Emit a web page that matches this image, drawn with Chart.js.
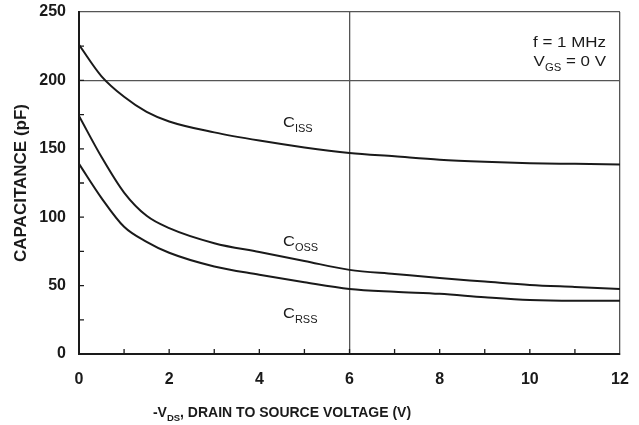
<!DOCTYPE html>
<html>
<head>
<meta charset="utf-8">
<script src="https://cdn.jsdelivr.net/npm/chart.js@4.4.0/dist/chart.umd.min.js"></script>
<style>
  html, body { margin: 0; padding: 0; background: #fff; }
  #wrap { width: 639px; height: 425px; position: relative; }
</style>
</head>
<body>
<div id="wrap"><canvas id="myChart" width="639" height="425"></canvas></div>
<script>
// -VDS sample points (V)
const vds = [0, 0.5, 1, 1.5, 2, 3, 4, 5, 6, 7, 8, 9, 10, 11, 12];
// capacitances (pF)
const ciss = [226, 203, 188, 177, 170, 162, 156, 151, 147, 144.5, 142, 140.5, 139.5, 139, 138.5];
const coss = [174, 144, 118, 101, 92, 81, 74.5, 68, 61.5, 58.5, 55.5, 53, 50.5, 49, 47.5];
const crss = [139, 114, 93, 82, 74, 64, 58, 52.5, 47.6, 45.5, 44, 41.5, 39.5, 39, 39];

const xTicks = [0, 2, 4, 6, 8, 10, 12];
const yTicks = [0, 50, 100, 150, 200, 250];

const FONT = '"Liberation Sans", Arial, sans-serif';

function toPoints(ys) {
  return vds.map((x, i) => ({ x: x, y: ys[i] }));
}

function lineSet(label, ys) {
  return {
    label: label,
    data: toPoints(ys),
    borderColor: '#1a1a1a',
    borderWidth: 2,
    pointRadius: 0,
    fill: false,
    cubicInterpolationMode: 'monotone'
  };
}

// width of a run of text pieces (some of them subscript)
function partsWidth(ctx, parts, size, subSize, weight) {
  let w = 0;
  parts.forEach(p => {
    ctx.font = weight + ' ' + (p.sub ? subSize : size) + 'px ' + FONT;
    w += ctx.measureText(p.t).width;
  });
  return w;
}

// draw text pieces from left edge x, stretched sideways by sx
function drawParts(ctx, parts, x, y, size, subSize, weight, sx) {
  ctx.save();
  ctx.translate(x, y);
  ctx.scale(sx, 1);
  let cx = 0;
  parts.forEach(p => {
    ctx.font = weight + ' ' + (p.sub ? subSize : size) + 'px ' + FONT;
    ctx.fillText(p.t, cx, p.sub ? size * 0.3 : 0);
    cx += ctx.measureText(p.t).width;
  });
  ctx.restore();
}

const annotatePlugin = {
  id: 'annotatePlugin',
  afterDatasetsDraw: (chart) => {
    const ctx = chart.ctx;
    const xs = chart.scales.x;
    const ys = chart.scales.y;
    ctx.save();

    // inward tick marks
    ctx.strokeStyle = '#1a1a1a';
    ctx.lineWidth = 1.3;
    ctx.beginPath();
    for (let v = 1; v < 12; v++) {
      const px = xs.getPixelForValue(v);
      ctx.moveTo(px, ys.bottom);
      ctx.lineTo(px, ys.bottom - 5);
    }
    for (let v = 25; v < 250; v += 25) {
      const py = ys.getPixelForValue(v);
      ctx.moveTo(xs.left, py);
      ctx.lineTo(xs.left + 5, py);
    }
    ctx.stroke();

    ctx.fillStyle = '#1a1a1a';
    ctx.textBaseline = 'alphabetic';
    ctx.textAlign = 'left';

    // curve labels
    drawParts(ctx, [{ t: 'C' }, { t: 'ISS', sub: true }], 283, 127, 15, 10, 'normal', 1.1);
    drawParts(ctx, [{ t: 'C' }, { t: 'OSS', sub: true }], 283, 246, 15, 10, 'normal', 1.1);
    drawParts(ctx, [{ t: 'C' }, { t: 'RSS', sub: true }], 283, 318, 15, 10, 'normal', 1.1);

    // test conditions, right aligned
    const l1 = [{ t: 'f = 1 MHz' }];
    const l2 = [{ t: 'V' }, { t: 'GS', sub: true }, { t: ' = 0 V' }];
    const s = 1.13;
    drawParts(ctx, l1, 606 - s * partsWidth(ctx, l1, 15, 10, 'normal'), 47, 15, 10, 'normal', s);
    drawParts(ctx, l2, 606 - s * partsWidth(ctx, l2, 15, 10, 'normal'), 66, 15, 10, 'normal', s);

    // x axis title
    const xt = [{ t: '-V' }, { t: 'DS', sub: true }, { t: ', DRAIN TO SOURCE VOLTAGE (V)' }];
    const w = partsWidth(ctx, xt, 14, 9.5, 'bold');
    drawParts(ctx, xt, 282 - w / 2, 417, 14, 9.5, 'bold', 1);

    ctx.restore();
  }
};

const ctx = document.getElementById('myChart').getContext('2d');

new Chart(ctx, {
  type: 'line',
  data: {
    datasets: [lineSet('CISS', ciss), lineSet('COSS', coss), lineSet('CRSS', crss)]
  },
  options: {
    responsive: false,
    animation: false,
    layout: { padding: { top: 12, right: 19, left: 0, bottom: 0 } },
    plugins: {
      legend: { display: false },
      tooltip: { enabled: false }
    },
    scales: {
      x: {
        type: 'linear',
        min: 0,
        max: 12,
        afterFit: (s) => { s.height = 71; s.paddingLeft = 0; s.paddingRight = 0; },
        afterBuildTicks: (s) => { s.ticks = vds.filter(v => Number.isInteger(v)).map(v => ({ value: v })); },
        ticks: {
          padding: 16,
          color: '#1a1a1a',
          font: { family: FONT, size: 16, weight: 'bold' },
          maxRotation: 0,
          autoSkip: false,
          callback: (v) => xTicks.includes(v) ? String(v) : ''
        },
        grid: {
          drawTicks: false,
          lineWidth: 1.3,
          color: (c) => (c.tick && (c.tick.value === 6 || c.tick.value === 12)) ? '#555' : 'rgba(0,0,0,0)'
        },
        border: { color: '#1a1a1a', width: 2 }
      },
      y: {
        min: 0,
        max: 250,
        afterFit: (s) => { s.width = 79; s.paddingTop = 0; s.paddingBottom = 0; },
        afterBuildTicks: (s) => {
          const t = [];
          for (let v = 0; v <= 250; v += 25) t.push({ value: v });
          s.ticks = t;
        },
        ticks: {
          padding: 13,
          color: '#1a1a1a',
          font: { family: FONT, size: 16, weight: 'bold' },
          callback: (v) => yTicks.includes(v) ? String(v) : ''
        },
        grid: {
          drawTicks: false,
          lineWidth: 1.3,
          color: (c) => (c.tick && (c.tick.value === 200 || c.tick.value === 250)) ? '#555' : 'rgba(0,0,0,0)'
        },
        border: { color: '#1a1a1a', width: 2 },
        title: {
          display: true,
          text: 'CAPACITANCE (pF)',
          color: '#1a1a1a',
          font: { family: FONT, size: 17, weight: 'bold' },
          padding: { top: 11, bottom: 0 }
        }
      }
    }
  },
  plugins: [annotatePlugin]
});
</script>
</body>
</html>
